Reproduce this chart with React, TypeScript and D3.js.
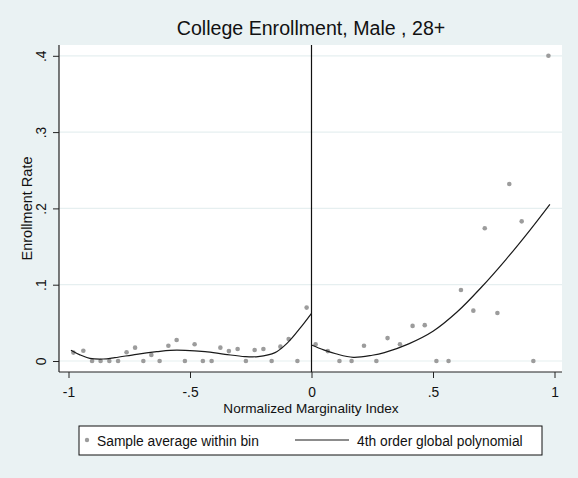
import { useEffect, useRef } from 'react';
import * as d3 from 'd3';

// binned sample averages, left of the cutoff
const leftBinX = [-0.98, -0.939, -0.903, -0.868, -0.832, -0.796, -0.761, -0.726, -0.692, -0.659, -0.625, -0.589, -0.555, -0.521,
  -0.481, -0.447, -0.411, -0.375, -0.34, -0.304, -0.27, -0.234, -0.198, -0.164, -0.128, -0.094, -0.058, -0.02];
const leftBinY = [0.011, 0.0135, 0, 0, 0, 0, 0.0115, 0.0175, 0, 0.008, 0, 0.02, 0.0275, 0,
  0.022, 0, 0, 0.0175, 0.013, 0.0157, 0, 0.0144, 0.0157, 0, 0.0188, 0.0288, 0, 0.07];

// binned sample averages, right of the cutoff
const rightBinX = [0.017, 0.067, 0.115, 0.165, 0.216, 0.267, 0.313, 0.364, 0.416, 0.466, 0.514, 0.564, 0.615, 0.666, 0.713,
  0.765, 0.814, 0.865, 0.913, 0.975];
const rightBinY = [0.022, 0.013, 0, 0, 0.02, 0, 0.03, 0.022, 0.046, 0.047, 0, 0, 0.093, 0.066, 0.174,
  0.063, 0.232, 0.183, 0, 0.4];

// fitted polynomial
const leftFitX = [-0.99, -0.953, -0.912, -0.857, -0.809, -0.72, -0.637, -0.582, -0.52, -0.438, -0.356, -0.274, -0.22, -0.15, -0.095, -0.047, 0];
const leftFitY = [0.014, 0.008, 0.0035, 0.0026, 0.0044, 0.0088, 0.0122, 0.014, 0.014, 0.0122, 0.0088, 0.0058, 0.0058, 0.011, 0.025, 0.043, 0.0625];
const rightFitX = [0, 0.05, 0.1, 0.172, 0.25, 0.3, 0.4, 0.5, 0.6, 0.7, 0.8, 0.9, 0.981];
const rightFitY = [0.021, 0.0145, 0.0095, 0.0048, 0.0075, 0.011, 0.0225, 0.039, 0.0645, 0.097, 0.133, 0.172, 0.2054];

const xTicks = [-1, -0.5, 0, 0.5, 1];
const xTickLabels = ['-1', '-.5', '0', '.5', '1'];
const yTicks = [0, 0.1, 0.2, 0.3, 0.4];
const yTickLabels = ['0', '.1', '.2', '.3', '.4'];

const FONT = 'Liberation Sans, Arial, sans-serif';

const App = () => {
  const ref = useRef<SVGSVGElement>(null);

  useEffect(() => {
    if (!ref.current) return;
    const svg = d3.select(ref.current);
    svg.selectAll('*').remove();

    const W = 578, H = 478;
    const plot = { left: 59, right: 562, top: 45, bottom: 372 };

    const x = d3.scaleLinear().domain([-1, 1]).range([68.5, 554.5]);
    const y = d3.scaleLinear().domain([0, 0.4]).range([361, 55.8]);

    svg.append('rect').attr('width', W).attr('height', H).attr('fill', '#eaf2f3');
    svg.append('rect')
      .attr('x', plot.left).attr('y', plot.top)
      .attr('width', plot.right - plot.left).attr('height', plot.bottom - plot.top)
      .attr('fill', '#ffffff');

    // grid lines
    svg.append('g')
      .selectAll('line')
      .data(yTicks)
      .enter()
      .append('line')
      .attr('x1', plot.left).attr('x2', plot.right)
      .attr('y1', d => y(d)).attr('y2', d => y(d))
      .attr('stroke', '#e6eff0')
      .attr('stroke-width', 1.2);

    // x-axis
    const gx = svg.append('g')
      .attr('transform', `translate(0,${plot.bottom})`)
      .call(d3.axisBottom(x).tickValues(xTicks).tickSize(6).tickSizeOuter(0)
        .tickFormat((_, i) => xTickLabels[i]));
    gx.select('.domain').remove();
    gx.selectAll('line').attr('stroke', '#222');
    gx.selectAll('text')
      .attr('y', 25).attr('dy', 0)
      .style('font-family', FONT).style('font-size', '13.8px').attr('fill', '#111');

    // y-axis
    const gy = svg.append('g')
      .attr('transform', `translate(${plot.left},0)`)
      .call(d3.axisLeft(y).tickValues(yTicks).tickSize(6).tickSizeOuter(0)
        .tickFormat((_, i) => yTickLabels[i]));
    gy.select('.domain').remove();
    gy.selectAll('line').attr('stroke', '#222');
    gy.selectAll('text')
      .attr('x', 0).attr('dy', 0)
      .attr('transform', 'translate(-13,0) rotate(-90)')
      .style('text-anchor', 'middle')
      .style('font-family', FONT).style('font-size', '13.8px').attr('fill', '#111');

    // axis lines
    svg.append('line')
      .attr('x1', plot.left).attr('x2', plot.left)
      .attr('y1', plot.top).attr('y2', plot.bottom)
      .attr('stroke', '#222').attr('stroke-width', 1.2);
    svg.append('line')
      .attr('x1', plot.left).attr('x2', plot.right)
      .attr('y1', plot.bottom).attr('y2', plot.bottom)
      .attr('stroke', '#222').attr('stroke-width', 1.2);

    // cutoff line
    svg.append('line')
      .attr('x1', x(0)).attr('x2', x(0))
      .attr('y1', plot.top).attr('y2', plot.bottom)
      .attr('stroke', '#111').attr('stroke-width', 1.2);

    // bin averages
    const bins = [
      ...leftBinX.map((v, i) => [v, leftBinY[i]]),
      ...rightBinX.map((v, i) => [v, rightBinY[i]]),
    ];
    svg.append('g')
      .selectAll('circle')
      .data(bins)
      .enter()
      .append('circle')
      .attr('cx', d => x(d[0]))
      .attr('cy', d => y(d[1]))
      .attr('r', 2.3)
      .attr('fill', '#9c9c9c');

    // polynomial fits
    const line = d3.line<number[]>()
      .x(d => x(d[0]))
      .y(d => y(d[1]))
      .curve(d3.curveCatmullRom.alpha(0.5));
    [[leftFitX, leftFitY], [rightFitX, rightFitY]].forEach(([xs, ys]) => {
      svg.append('path')
        .datum(xs.map((v, i) => [v, ys[i]]))
        .attr('d', line)
        .attr('fill', 'none')
        .attr('stroke', '#1a1a1a')
        .attr('stroke-width', 1.2);
    });

    // title and axis titles
    svg.append('text')
      .attr('x', 311).attr('y', 35)
      .style('text-anchor', 'middle')
      .style('font-family', FONT).style('font-size', '19.6px')
      .attr('fill', '#111')
      .text('College Enrollment, Male , 28+');
    svg.append('text')
      .attr('x', 311).attr('y', 413)
      .style('text-anchor', 'middle')
      .style('font-family', FONT).style('font-size', '13.6px')
      .attr('fill', '#111')
      .text('Normalized Marginality Index');
    svg.append('text')
      .attr('transform', `translate(32,${(plot.top + plot.bottom) / 2}) rotate(-90)`)
      .style('text-anchor', 'middle')
      .style('font-family', FONT).style('font-size', '14.5px')
      .attr('fill', '#111')
      .text('Enrollment Rate');

    // legend
    const lg = svg.append('g');
    lg.append('rect')
      .attr('x', 79).attr('y', 426).attr('width', 463).attr('height', 29)
      .attr('fill', '#ffffff').attr('stroke', '#111').attr('stroke-width', 1);
    lg.append('circle').attr('cx', 87).attr('cy', 440).attr('r', 2.2).attr('fill', '#9c9c9c');
    lg.append('text')
      .attr('x', 97).attr('y', 446)
      .style('font-family', FONT).style('font-size', '13.8px').attr('fill', '#111')
      .text('Sample average within bin');
    lg.append('line')
      .attr('x1', 295).attr('x2', 349).attr('y1', 440).attr('y2', 440)
      .attr('stroke', '#1a1a1a').attr('stroke-width', 1.2);
    lg.append('text')
      .attr('x', 357).attr('y', 446)
      .style('font-family', FONT).style('font-size', '13.8px').attr('fill', '#111')
      .text('4th order global polynomial');
  }, []);

  return (
    <svg
      ref={ref}
      width={578}
      height={478}
      style={{ position: 'absolute', left: 0, top: 0, display: 'block' }}
    />
  );
};

export default App;
